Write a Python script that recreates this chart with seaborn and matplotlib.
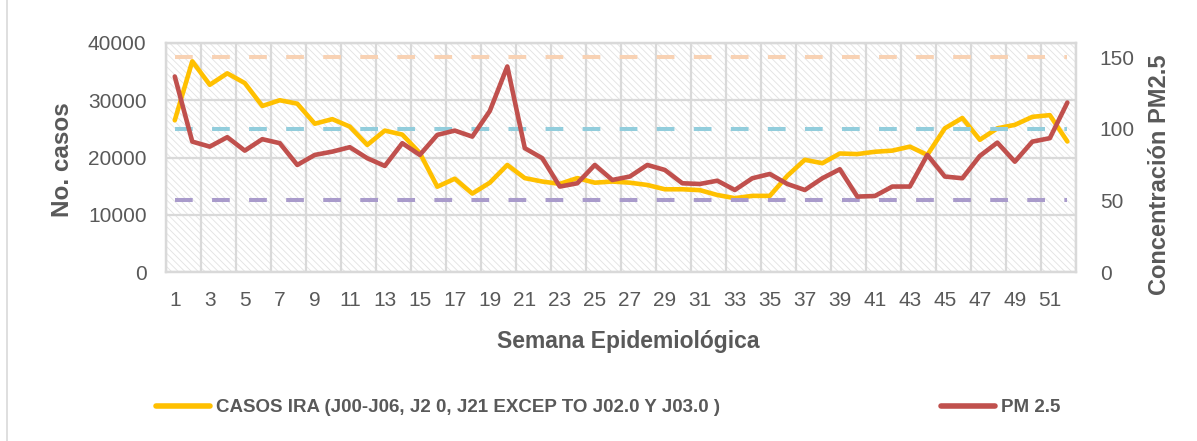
import matplotlib
matplotlib.use('Agg')
import matplotlib.pyplot as plt
import seaborn as sns
import pandas as pd
from matplotlib.patches import Rectangle
from matplotlib.lines import Line2D

# weekly data
semanas = list(range(1, 53))

casos_ira = [26500, 36800, 32700, 34700, 33000, 29000, 30000, 29400, 25900, 26700,
             25400, 22200, 24700, 24000, 20800, 14900, 16300, 13700, 15600, 18700,
             16400, 15800, 15400, 16400, 15600, 15800, 15600, 15200, 14450, 14450,
             14300, 13450, 12900, 13300, 13300, 16800, 19600, 19000, 20700, 20600,
             21000, 21200, 21900, 20450, 25100, 26900, 23100, 25100, 25700, 27100,
             27400, 22800]

pm25 = [136.6, 91.1, 87.6, 94.2, 84.8, 92.8, 90.0, 74.8, 81.8, 84.1,
        87.2, 79.5, 74.1, 90.0, 81.8, 95.8, 98.8, 94.6, 112.5, 143.6,
        86.5, 79.5, 59.7, 62.0, 74.8, 64.3, 66.7, 74.8, 71.3, 62.0,
        61.5, 63.8, 57.3, 65.5, 68.5, 61.5, 57.3, 65.5, 71.8, 52.7,
        53.1, 59.7, 59.7, 81.8, 66.7, 65.5, 81.1, 90.4, 77.1, 91.1,
        93.5, 118.4]

# reference levels (right axis) and their colours
niveles = [150, 100, 50]
colores_nivel = ['#F8D2B4', '#92CDDC', '#A99BCB']

df = pd.DataFrame({'semana': semanas, 'casos': casos_ira, 'pm25': pm25})

sns.set_style('white')
plt.rcParams['font.family'] = ['Liberation Sans', 'DejaVu Sans']
plt.rcParams['hatch.linewidth'] = 0.6

gris = '#595959'
grid_c = '#D9D9D9'

fig = plt.figure(figsize=(11.97, 4.41), dpi=100)
ax = fig.add_axes([0.1387, 0.3832, 0.7603, 0.5193])
ax2 = ax.twinx()

# hatched plot-area background
ax.add_patch(Rectangle((0, 0), 1, 1, transform=ax.transAxes, facecolor='white',
                       edgecolor='#E2E2E2', hatch='\\\\\\\\\\', lw=0, zorder=0))

# casos IRA on left axis
sns.lineplot(data=df, x='semana', y='casos', ax=ax, color='#FFC000', lw=3.3,
             zorder=3, legend=False)

# reference dashed levels on right axis
for nivel, c in zip(niveles, colores_nivel):
    ax2.hlines(nivel, semanas[0], semanas[-1], colors=c, lw=2.9,
               linestyles=(0, (4.4, 4.8)), zorder=1)

# PM 2.5 on right axis
sns.lineplot(data=df, x='semana', y='pm25', ax=ax2, color='#C0504D', lw=3.3,
             zorder=3, legend=False)

ax.set_xlim(0.5, 52.5)
ax.set_ylim(0, 40000)
ax2.set_ylim(0, 160)

ax.set_yticks([0, 10000, 20000, 30000, 40000])
ax2.set_yticks([0, 50, 100, 150])
ax.set_xticks(semanas[::2])
ax.set_xticks([s - 0.5 for s in semanas[::2]] + [52.5], minor=True)

ax.grid(True, axis='y', color=grid_c, lw=1.6, zorder=1)
ax.grid(True, axis='x', which='minor', color=grid_c, lw=1.6, zorder=1)
ax.grid(False, axis='x', which='major')
ax.set_axisbelow(True)
ax2.grid(False)

ax.tick_params(axis='x', which='major', length=0, pad=14, labelsize=15, labelcolor=gris)
ax.tick_params(axis='x', which='minor', length=6, width=1.5, color=grid_c, direction='out')
ax.tick_params(axis='y', length=0, pad=14, labelsize=15, labelcolor=gris)
ax2.tick_params(axis='y', length=0, pad=17, labelsize=15, labelcolor=gris)

for a in (ax, ax2):
    for sp in a.spines.values():
        sp.set_color(grid_c)
        sp.set_linewidth(1.6)

ax.set_xlabel('')
ax.set_ylabel('')
ax2.set_ylabel('')

fig.text(0.052, 0.637, 'No. casos', rotation=90, ha='center', va='center',
         fontsize=17.5, fontweight='bold', color=gris)
fig.text(0.969, 0.603, 'Concentración PM2.5', rotation=90, ha='center', va='center',
         fontsize=17, fontweight='bold', color=gris)
fig.text(0.525, 0.225, 'Semana Epidemiológica', ha='center', va='center',
         fontsize=16.5, fontweight='bold', color=gris)

# left frame border line of the original chart box
fig.add_artist(Line2D([0.006, 0.006], [0.0, 1.0], transform=fig.transFigure,
                      color=grid_c, lw=1.2))

handles = [Line2D([], [], color='#FFC000', lw=4),
           Line2D([], [], color='#C0504D', lw=4)]
etiquetas = ['CASOS IRA (J00-J06, J2 0, J21 EXCEP TO J02.0 Y J03.0 )', 'PM 2.5']
leg = fig.legend(handles, etiquetas, loc='center', bbox_to_anchor=(0.508, 0.075),
                 ncol=2, frameon=False, handlelength=2.9, handletextpad=0.3,
                 columnspacing=11.8,
                 prop={'family': ['Liberation Sans'], 'weight': 'bold', 'size': 13.5})
for t in leg.get_texts():
    t.set_color(gris)

fig.savefig('out.png', dpi=100)
